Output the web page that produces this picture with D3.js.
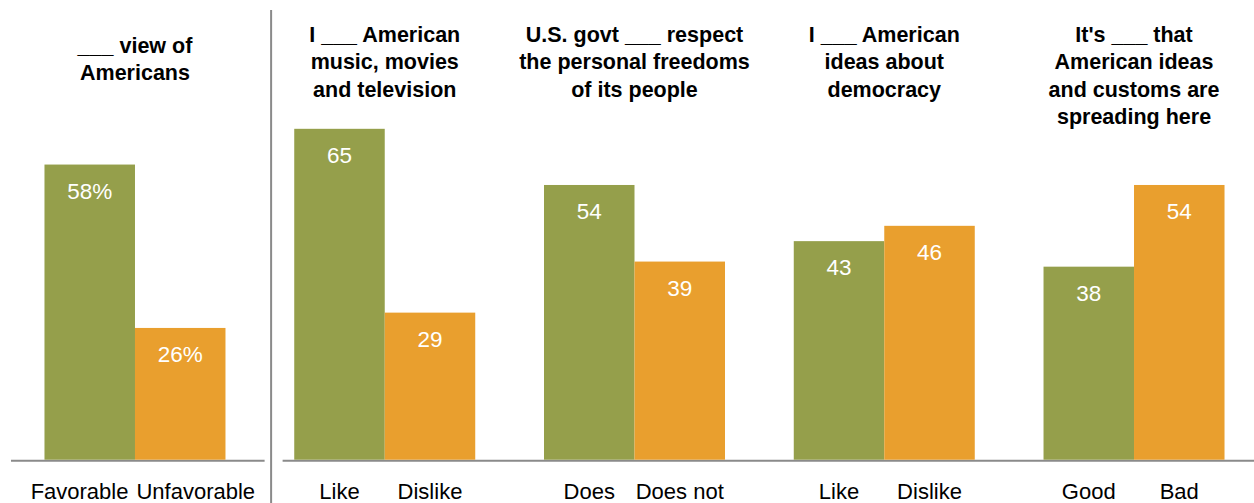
<!DOCTYPE html>
<html>
<head>
<meta charset="utf-8">
<script src="https://cdn.jsdelivr.net/npm/d3@7"></script>
<style>
  html, body { margin: 0; padding: 0; background: #fff; }
  svg { display: block; }
</style>
</head>
<body>
<svg id="chart" width="1254" height="503"></svg>
<script>
// ---- data ----
const groups = ["g1", "g2", "g3", "g4", "g5"];
const titles = [
  ["___ view of", "Americans"],
  ["I ___ American", "music, movies", "and television"],
  ["U.S. govt ___ respect", "the personal freedoms", "of its people"],
  ["I ___ American", "ideas about", "democracy"],
  ["It's ___ that", "American ideas", "and customs are", "spreading here"]
];
const positiveLabels = ["Favorable", "Like", "Does", "Like", "Good"];
const negativeLabels = ["Unfavorable", "Dislike", "Does not", "Dislike", "Bad"];
const positiveValues = [58, 65, 54, 43, 38];
const negativeValues = [26, 29, 39, 46, 54];
const series = ["positive", "negative"];

// ---- styles ----
const colors = { positive: "#959f4b", negative: "#e99f2e" };
const axisColor = "#8a8a8a";
const W = 1254, H = 503;
const baseline = 460.7;

const svg = d3.select("#chart");

const x0 = d3.scalePoint().domain(groups).range([10.1, 1258.9]).padding(0.5);
const x1 = d3.scaleBand().domain(series).range([-90.5, 90.5]).paddingInner(0);
const y = d3.scaleLinear().domain([0, 100]).range([baseline, baseline - 510.6]);

const rows = groups.map((g, i) => ({
  g, i,
  vals: [
    { s: "positive", v: positiveValues[i], label: positiveLabels[i] },
    { s: "negative", v: negativeValues[i], label: negativeLabels[i] }
  ]
}));

const c1 = x0(groups[0]), c2 = x0(groups[1]);
const sepX = (c1 + c2) / 2 + 11.25;

// axis baselines
svg.append("line")
  .attr("x1", c1 - 124).attr("x2", sepX - 6.5)
  .attr("y1", baseline).attr("y2", baseline)
  .attr("stroke", axisColor).attr("stroke-width", 2);
svg.append("line")
  .attr("x1", sepX + 11.5).attr("x2", W)
  .attr("y1", baseline).attr("y2", baseline)
  .attr("stroke", axisColor).attr("stroke-width", 2);
// separator
svg.append("line")
  .attr("x1", sepX).attr("x2", sepX)
  .attr("y1", 10).attr("y2", H)
  .attr("stroke", axisColor).attr("stroke-width", 2);

const gSel = svg.selectAll("g.group").data(rows).join("g")
  .attr("class", "group")
  .attr("transform", d => `translate(${x0(d.g)},0)`);

// bars
gSel.selectAll("rect").data(d => d.vals).join("rect")
  .attr("x", d => x1(d.s))
  .attr("width", x1.bandwidth())
  .attr("y", d => y(d.v))
  .attr("height", d => y(0) - y(d.v) - 1)
  .attr("fill", d => colors[d.s]);

// value labels
gSel.each(function(d) {
  const g = d3.select(this);
  g.selectAll("text.val").data(d.vals).join("text")
    .attr("class", "val")
    .attr("x", v => x1(v.s) + x1.bandwidth() / 2)
    .attr("y", v => y(v.v) + 34)
    .attr("text-anchor", "middle")
    .attr("font-family", "Liberation Sans, Arial, sans-serif")
    .attr("font-size", 22.5)
    .attr("fill", "#fff")
    .text(v => d.i === 0 ? v.v + "%" : v.v);
});

// titles
gSel.each(function(d) {
  const g = d3.select(this);
  const start = d.i === 0 ? 53 : 42;
  g.append("text")
    .attr("text-anchor", "middle")
    .attr("font-family", "Liberation Sans, Arial, sans-serif")
    .attr("font-weight", "bold")
    .attr("font-size", 21.5)
    .attr("fill", "#000")
    .selectAll("tspan").data(titles[d.i]).join("tspan")
    .attr("x", 0)
    .attr("y", (t, j) => start + j * 27.3)
    .text(t => t);
});

// category labels
gSel.each(function(d) {
  const g = d3.select(this);
  const labels = g.selectAll("text.cat").data(d.vals).join("text")
    .attr("class", "cat")
    .attr("x", v => x1(v.s) + x1.bandwidth() / 2)
    .attr("y", 499)
    .attr("text-anchor", "middle")
    .attr("font-family", "Liberation Sans, Arial, sans-serif")
    .attr("font-size", 22)
    .attr("fill", "#000")
    .text(v => v.label);
  const nodes = labels.nodes();
  const w0 = nodes[0].getComputedTextLength();
  const w1 = nodes[1].getComputedTextLength();
  const half = x1.bandwidth() / 2;
  // resolve overlap: push labels apart around the group centre
  if ((-half + w0 / 2) > (half - w1 / 2) - 8) {
    d3.select(nodes[0]).attr("text-anchor", "end").attr("x", -6.5);
    d3.select(nodes[1]).attr("text-anchor", "start").attr("x", 1.5);
  }
});
</script>
</body>
</html>
